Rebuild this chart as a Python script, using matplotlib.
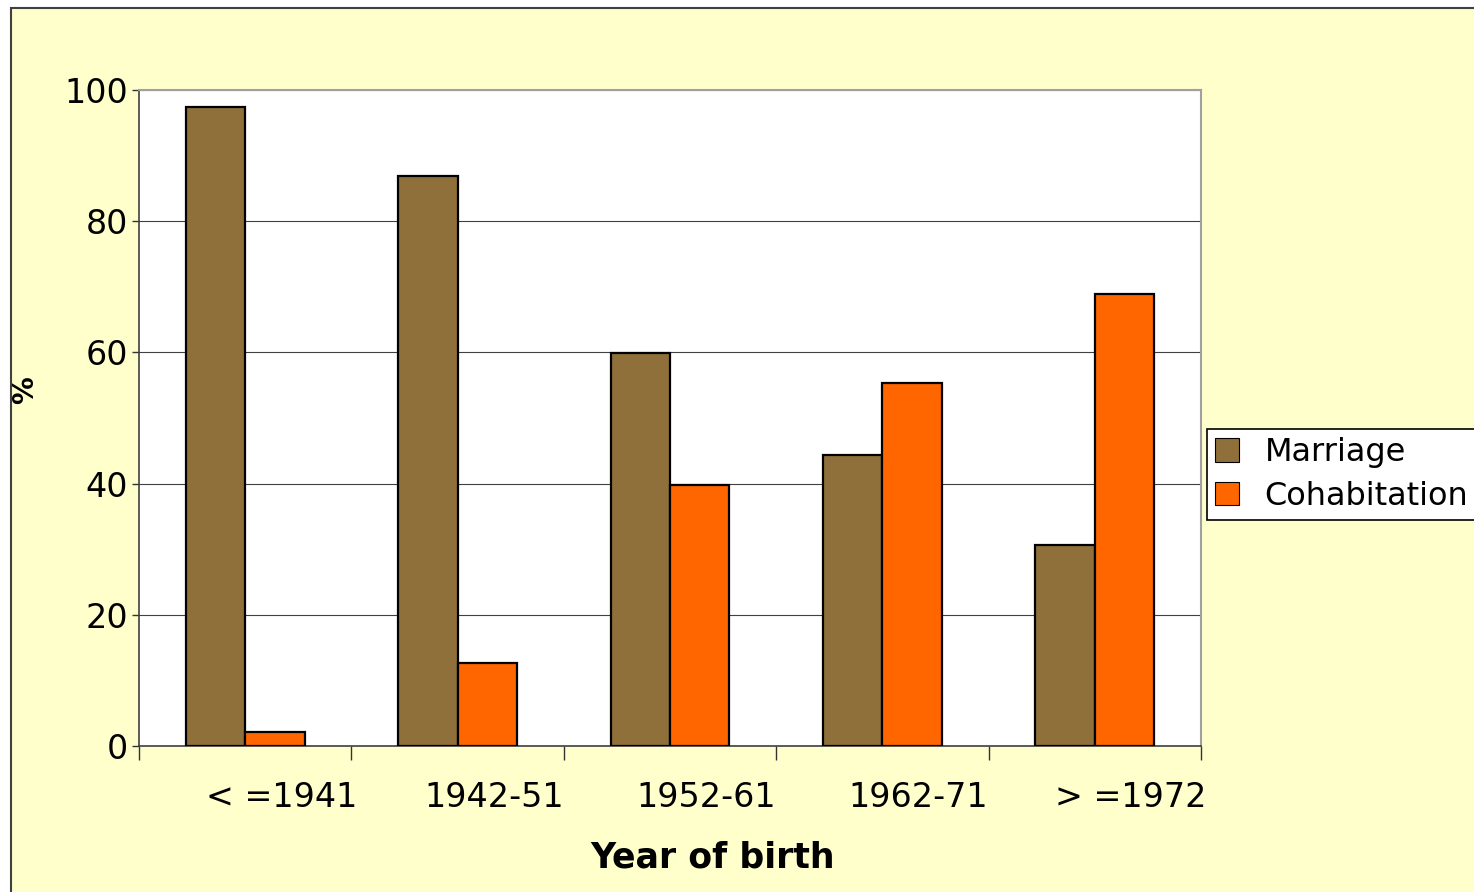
import numpy as np
import matplotlib
matplotlib.use("Agg")
import matplotlib.pyplot as plt
from matplotlib.patches import Rectangle

# data
cohorts = ["< =1941", "1942-51", "1952-61", "1962-71", "> =1972"]
marriage = [97.4, 86.9, 59.9, 44.4, 30.6]
cohabitation = [2.1, 12.7, 39.8, 55.3, 68.9]

plt.rcParams['font.family'] = ['DejaVu Sans']

W, H = 1474, 892
fig = plt.figure(figsize=(W / 100, H / 100), dpi=100, facecolor="white")

# yellow chart area with dark border (cut at right/bottom)
fig.patches.append(Rectangle((11 / W, -0.01), 1.02, 1 - 8 / H + 0.01,
                             transform=fig.transFigure, facecolor="#FFFFCC",
                             edgecolor="#404040", linewidth=1.5, zorder=-5))

ax = fig.add_axes([139 / W, 1 - 746 / H, (1201 - 139) / W, (746 - 90) / H])
ax.set_facecolor("white")

x = np.arange(len(cohorts))
w = 0.28
ax.bar(x - w / 2, marriage, w, color="#8F703A", edgecolor="black",
       linewidth=1.6, label="Marriage", zorder=3)
ax.bar(x + w / 2, cohabitation, w, color="#FF6600", edgecolor="black",
       linewidth=1.6, label="Cohabitation", zorder=3)

ax.set_xlim(-0.5, len(cohorts) - 0.5)
ax.set_ylim(0, 100)
ax.set_yticks(range(0, 101, 20))
ax.yaxis.grid(True, color="#404040", linewidth=0.8, zorder=0)
ax.tick_params(axis="y", direction="out", length=5, width=1, labelsize=24,
               pad=3, color="#333333")

# boundaries as ticks, labels offset a bit to the right like the original
ax.set_xticks(np.arange(-0.5, len(cohorts), 1.0))
ax.set_xticklabels([])
ax.tick_params(axis="x", which="major", direction="out", length=10,
               width=1, color="#333333")
ax.set_xticks(x + 0.17, minor=True)
ax.set_xticklabels(cohorts, minor=True)
ax.tick_params(axis="x", which="minor", length=0, labelsize=24, pad=25)

for s in ["top", "right"]:
    ax.spines[s].set_color("#A0A0A0")
    ax.spines[s].set_linewidth(1.5)
for s in ["left", "bottom"]:
    ax.spines[s].set_color("#404040")
    ax.spines[s].set_linewidth(1.2)

fig.text(25 / W, 1 - 390 / H, "%", rotation=90, fontsize=20,
         fontweight="bold", ha="center", va="center")
fig.text(713 / W, 1 - 857 / H, "Year of birth", fontsize=25,
         fontweight="bold", ha="center", va="center")

leg = fig.legend(loc="upper left", bbox_to_anchor=(1207 / W, 1 - 429 / H),
                 fontsize=23, frameon=True, fancybox=False,
                 edgecolor="black", facecolor="white", framealpha=1,
                 handlelength=0.75, handleheight=0.75, handletextpad=0.8,
                 borderpad=0.25, labelspacing=0.4, borderaxespad=0)
leg.get_frame().set_linewidth(1.2)
for h in leg.legend_handles:
    h.set_linewidth(0.8)

fig.savefig("out.png", dpi=100, facecolor=fig.get_facecolor())
